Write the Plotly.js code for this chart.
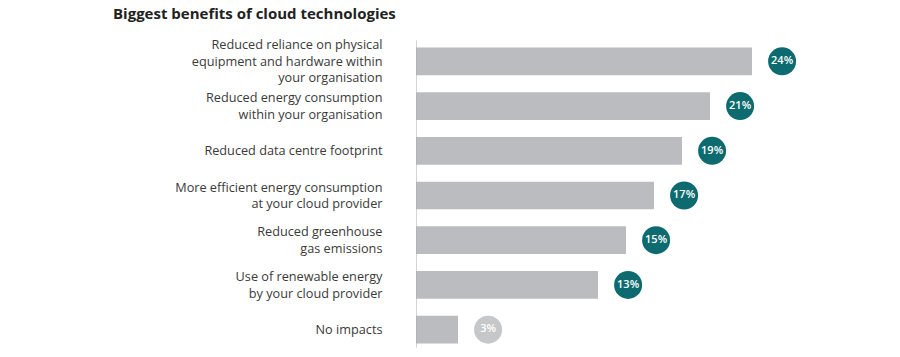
<!DOCTYPE html>
<html>
<head>
<meta charset="utf-8">
<script src="https://cdn.plot.ly/plotly-3.0.1.min.js"></script>
<style>html,body{margin:0;padding:0;background:#fff;}#chart{width:900px;height:357px;}</style>
</head>
<body>
<div id="chart"></div>
<script>
const categories = [
  "Reduced reliance on physical<br>equipment and hardware within<br>your organisation",
  "Reduced energy consumption<br>within your organisation",
  "Reduced data centre footprint",
  "More efficient energy consumption<br>at your cloud provider",
  "Reduced greenhouse<br>gas emissions",
  "Use of renewable energy<br>by your cloud provider",
  "No impacts"
];
const values = [24, 21, 19, 17, 15, 13, 3];
const valueLabels = ["24%", "21%", "19%", "17%", "15%", "13%", "3%"];
const highlight = [true, true, true, true, true, true, false];

const teal = "#0d6b70";
const lightGray = "#c6c7c9";
const barGray = "#bbbcbf";
const circleOffset = 2.15; // data units right of bar end

const bars = {
  type: "bar",
  orientation: "h",
  y: categories,
  x: values,
  marker: {color: barGray},
  hoverinfo: "skip",
  showlegend: false
};
const circles = {
  type: "scatter",
  mode: "markers+text",
  y: categories,
  x: values.map(v => v + circleOffset),
  text: valueLabels,
  textposition: "middle center",
  textfont: {family: "Open Sans", size: 11, color: "#ffffff", weight: 600},
  marker: {size: 28, color: highlight.map(h => h ? teal : lightGray), line: {width: 0}},
  hoverinfo: "skip",
  showlegend: false,
  cliponaxis: false
};

const layout = {
  width: 900, height: 357,
  margin: {l: 416, r: 64, t: 39, b: 5},
  paper_bgcolor: "#ffffff", plot_bgcolor: "#ffffff",
  font: {family: "Open Sans", color: "#333333"},
  title: {
    text: "<b>Biggest benefits of cloud technologies</b>",
    font: {family: "Open Sans", size: 15, color: "#222222"},
    x: 113/900, xanchor: "left", xref: "container",
    y: 1 - 14/357, yanchor: "middle", yref: "container"
  },
  bargap: 0.38,
  xaxis: {range: [0, 30], visible: false, fixedrange: true},
  yaxis: {
    range: [categories.length - 0.5, -0.5],
    showgrid: false, zeroline: false, showline: false,
    ticks: "outside", ticklen: 30, tickcolor: "rgba(0,0,0,0)",
    tickfont: {family: "Open Sans", size: 12.7, color: "#3a3a3a"},
    fixedrange: true
  },
  shapes: [{
    type: "line", xref: "x", yref: "paper",
    x0: 0, x1: 0, y0: 0.014, y1: 0.996,
    line: {color: "#aaaaaa", width: 1}
  }]
};

Plotly.newPlot("chart", [bars, circles], layout, {displayModeBar: false, staticPlot: true});
</script>
</body>
</html>
